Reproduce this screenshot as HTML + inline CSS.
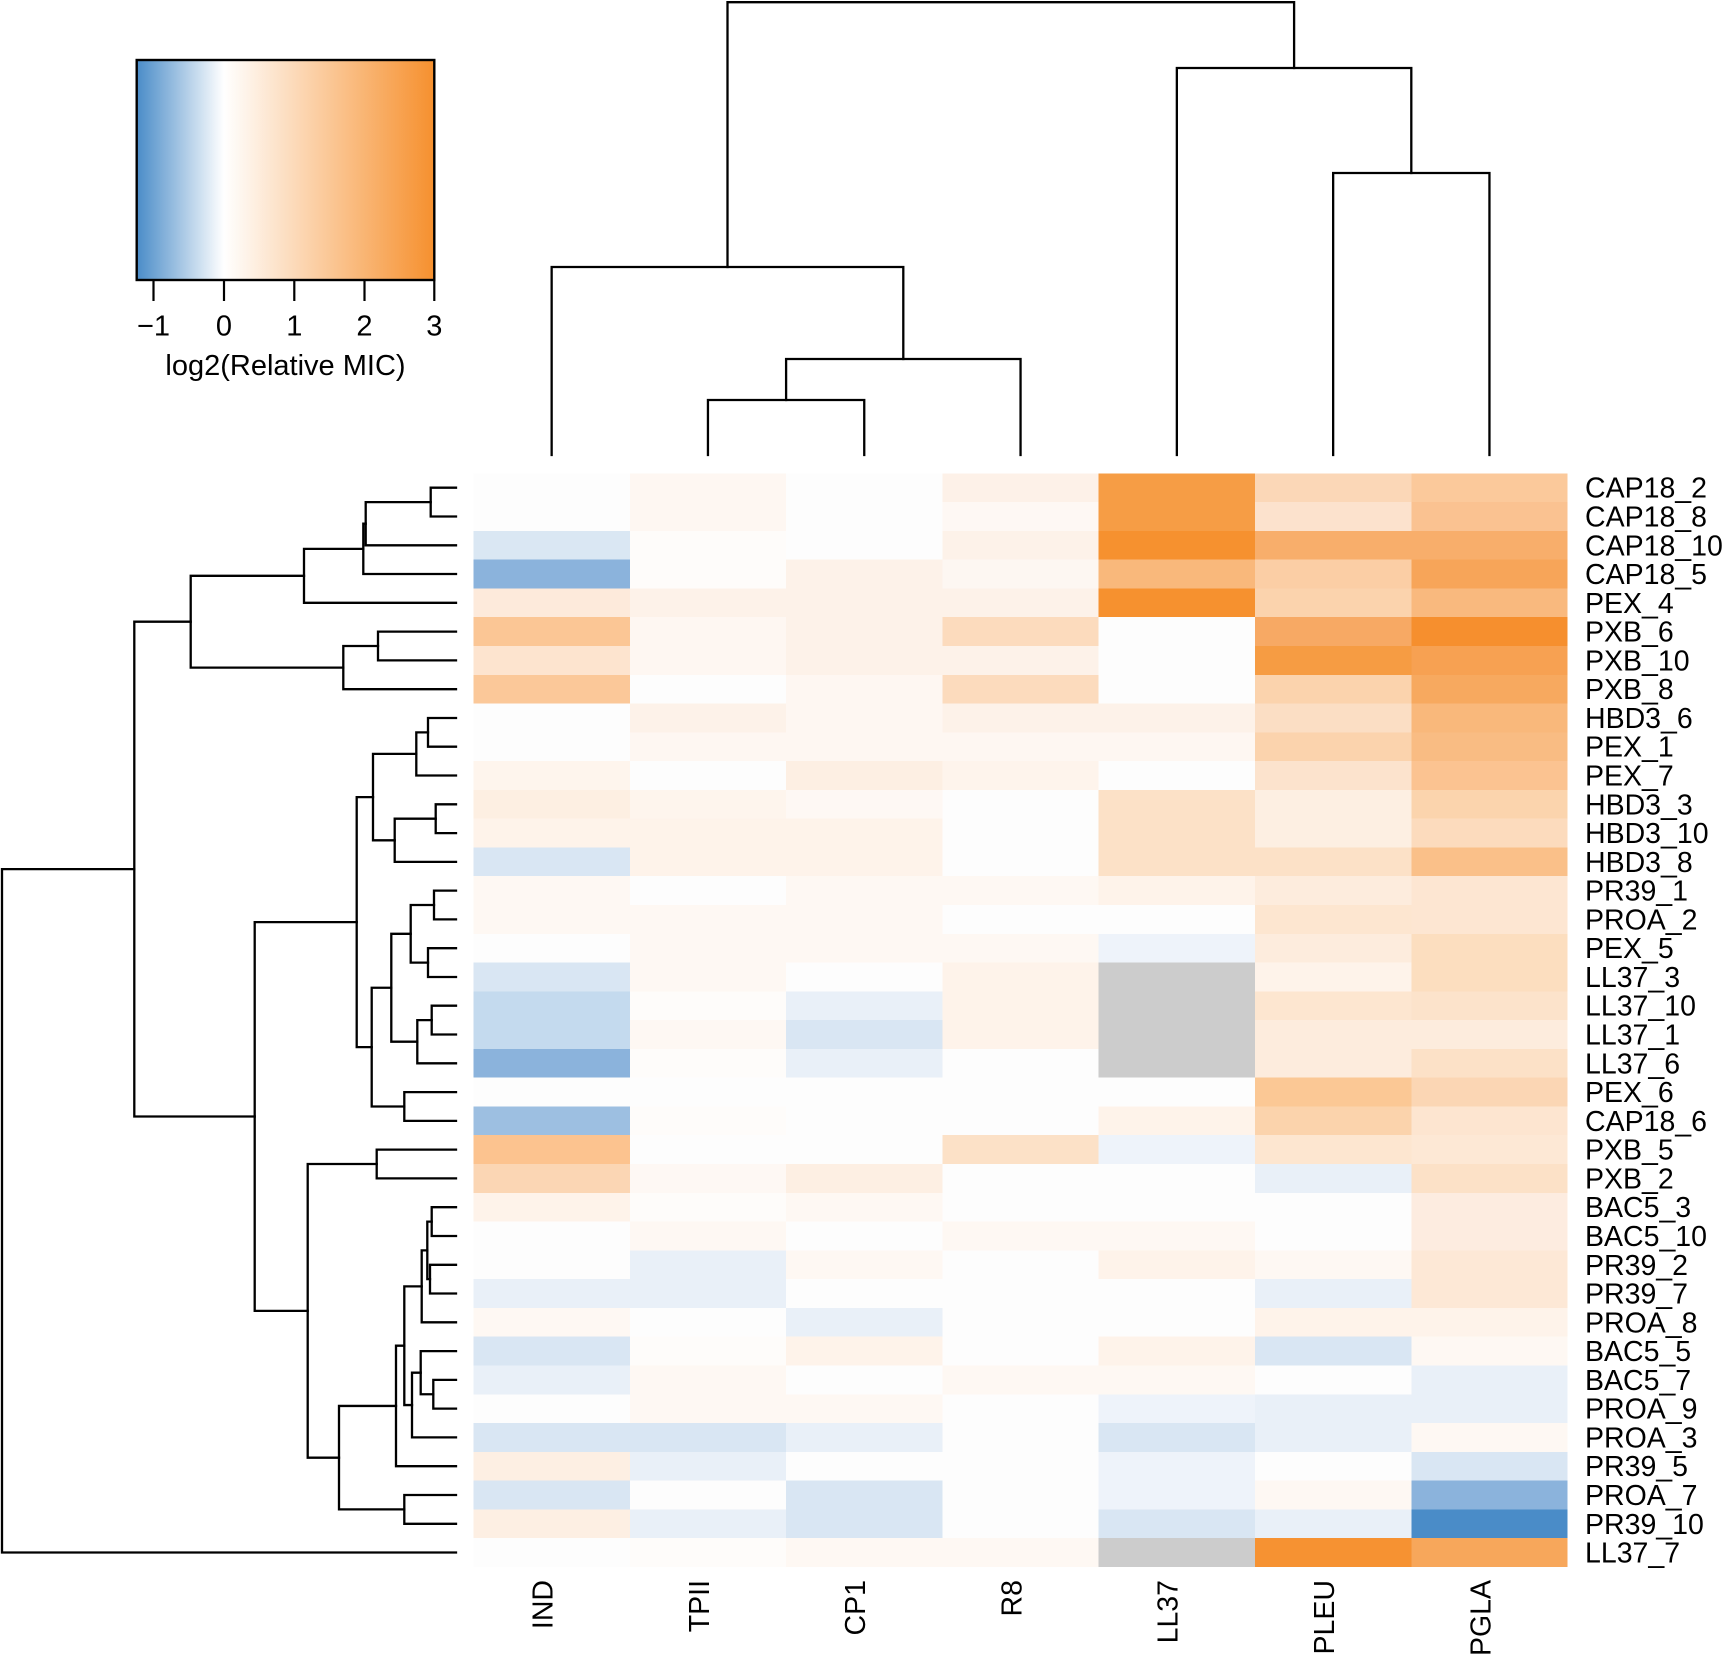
<!DOCTYPE html>
<html>
<head>
<meta charset="utf-8">
<style>
html,body{margin:0;padding:0;background:#ffffff;}
svg{display:block;}
text{font-family:"Liberation Sans",Arial,Helvetica,sans-serif;fill:#000;}
</style>
</head>
<body>
<svg width="1723" height="1656" viewBox="0 0 1723 1656" xmlns="http://www.w3.org/2000/svg">
<defs>
<linearGradient id="lg" gradientUnits="userSpaceOnUse" x1="136.7" y1="0" x2="434.3" y2="0">
<stop offset="0" stop-color="#4a8cc8"/>
<stop offset="0.293" stop-color="#ffffff"/>
<stop offset="1" stop-color="#f6902e"/>
</linearGradient>
</defs>
<rect x="0" y="0" width="1723" height="1656" fill="#ffffff"/>

<!-- Legend -->
<rect x="136.7" y="60" width="297.6" height="220" fill="url(#lg)" stroke="#000" stroke-width="2.4"/>
<g stroke="#000" stroke-width="2.2">
<line x1="153.5" y1="280" x2="153.5" y2="301"/>
<line x1="224" y1="280" x2="224" y2="301"/>
<line x1="294.3" y1="280" x2="294.3" y2="301"/>
<line x1="364.5" y1="280" x2="364.5" y2="301"/>
<line x1="434.3" y1="280" x2="434.3" y2="301"/>
</g>
<g font-size="29" text-anchor="middle">
<text x="153.5" y="335.5">−1</text>
<text x="224" y="335.5">0</text>
<text x="294.3" y="335.5">1</text>
<text x="364.5" y="335.5">2</text>
<text x="434.3" y="335.5">3</text>
<text x="285.5" y="375">log2(Relative MIC)</text>
</g>

<!-- Heatmap -->
<g shape-rendering="crispEdges">
<!-- row 0 CAP18_2 -->
<rect x="473.5" y="473.3" width="156.8" height="29.2" fill="#fdfdfd"/><rect x="629.8" y="473.3" width="156.8" height="29.2" fill="#fef7f2"/><rect x="786.1" y="473.3" width="156.8" height="29.2" fill="#fdfdfd"/><rect x="942.4" y="473.3" width="156.8" height="29.2" fill="#fdf1e8"/><rect x="1098.7" y="473.3" width="156.8" height="29.2" fill="#f69d45"/><rect x="1255" y="473.3" width="156.8" height="29.2" fill="#fbd7b7"/><rect x="1411.3" y="473.3" width="156.3" height="29.2" fill="#fbc99b"/>
<!-- row 1 CAP18_8 -->
<rect x="473.5" y="502.1" width="156.8" height="29.2" fill="#fdfdfd"/><rect x="629.8" y="502.1" width="156.8" height="29.2" fill="#fef7f2"/><rect x="786.1" y="502.1" width="156.8" height="29.2" fill="#fdfdfd"/><rect x="942.4" y="502.1" width="156.8" height="29.2" fill="#fef8f4"/><rect x="1098.7" y="502.1" width="156.8" height="29.2" fill="#f69d45"/><rect x="1255" y="502.1" width="156.8" height="29.2" fill="#fce2cd"/><rect x="1411.3" y="502.1" width="156.3" height="29.2" fill="#fac291"/>
<!-- row 2 CAP18_10 -->
<rect x="473.5" y="530.9" width="156.8" height="29.2" fill="#dae7f3"/><rect x="629.8" y="530.9" width="156.8" height="29.2" fill="#fefcfa"/><rect x="786.1" y="530.9" width="156.8" height="29.2" fill="#fdfdfd"/><rect x="942.4" y="530.9" width="156.8" height="29.2" fill="#fdf2e9"/><rect x="1098.7" y="530.9" width="156.8" height="29.2" fill="#f6912f"/><rect x="1255" y="530.9" width="156.8" height="29.2" fill="#f8ae6b"/><rect x="1411.3" y="530.9" width="156.3" height="29.2" fill="#f8ae6b"/>
<!-- row 3 CAP18_5 -->
<rect x="473.5" y="559.6" width="156.8" height="29.2" fill="#8bb3dc"/><rect x="629.8" y="559.6" width="156.8" height="29.2" fill="#fefcfa"/><rect x="786.1" y="559.6" width="156.8" height="29.2" fill="#fdf2e9"/><rect x="942.4" y="559.6" width="156.8" height="29.2" fill="#fdf7f2"/><rect x="1098.7" y="559.6" width="156.8" height="29.2" fill="#f9b87b"/><rect x="1255" y="559.6" width="156.8" height="29.2" fill="#fbcea5"/><rect x="1411.3" y="559.6" width="156.3" height="29.2" fill="#f7a559"/>
<!-- row 4 PEX_4 -->
<rect x="473.5" y="588.4" width="156.8" height="29.2" fill="#fdeadb"/><rect x="629.8" y="588.4" width="156.8" height="29.2" fill="#fdf2e9"/><rect x="786.1" y="588.4" width="156.8" height="29.2" fill="#fdf2e9"/><rect x="942.4" y="588.4" width="156.8" height="29.2" fill="#fdf2e9"/><rect x="1098.7" y="588.4" width="156.8" height="29.2" fill="#f6912f"/><rect x="1255" y="588.4" width="156.8" height="29.2" fill="#fbd3ad"/><rect x="1411.3" y="588.4" width="156.3" height="29.2" fill="#f9b97e"/>
<!-- row 5 PXB_6 -->
<rect x="473.5" y="617.2" width="156.8" height="29.2" fill="#fbc695"/><rect x="629.8" y="617.2" width="156.8" height="29.2" fill="#fef7f2"/><rect x="786.1" y="617.2" width="156.8" height="29.2" fill="#fdf2e9"/><rect x="942.4" y="617.2" width="156.8" height="29.2" fill="#fcdbbd"/><rect x="1098.7" y="617.2" width="156.8" height="29.2" fill="#fdfdfd"/><rect x="1255" y="617.2" width="156.8" height="29.2" fill="#f7a964"/><rect x="1411.3" y="617.2" width="156.3" height="29.2" fill="#f68f2e"/>
<!-- row 6 PXB_10 -->
<rect x="473.5" y="646" width="156.8" height="29.2" fill="#fde4cf"/><rect x="629.8" y="646" width="156.8" height="29.2" fill="#fef7f2"/><rect x="786.1" y="646" width="156.8" height="29.2" fill="#fdf2e9"/><rect x="942.4" y="646" width="156.8" height="29.2" fill="#fdf2e9"/><rect x="1098.7" y="646" width="156.8" height="29.2" fill="#fdfdfd"/><rect x="1255" y="646" width="156.8" height="29.2" fill="#f69c43"/><rect x="1411.3" y="646" width="156.3" height="29.2" fill="#f7a152"/>
<!-- row 7 PXB_8 -->
<rect x="473.5" y="674.8" width="156.8" height="29.2" fill="#fbc899"/><rect x="629.8" y="674.8" width="156.8" height="29.2" fill="#fdfdfd"/><rect x="786.1" y="674.8" width="156.8" height="29.2" fill="#fef7f2"/><rect x="942.4" y="674.8" width="156.8" height="29.2" fill="#fcdbbd"/><rect x="1098.7" y="674.8" width="156.8" height="29.2" fill="#fdfdfd"/><rect x="1255" y="674.8" width="156.8" height="29.2" fill="#fbd3ad"/><rect x="1411.3" y="674.8" width="156.3" height="29.2" fill="#f7a95f"/>
<!-- row 8 HBD3_6 -->
<rect x="473.5" y="703.5" width="156.8" height="29.2" fill="#fdfdfd"/><rect x="629.8" y="703.5" width="156.8" height="29.2" fill="#fdf2e9"/><rect x="786.1" y="703.5" width="156.8" height="29.2" fill="#fef7f2"/><rect x="942.4" y="703.5" width="156.8" height="29.2" fill="#fdf2e9"/><rect x="1098.7" y="703.5" width="156.8" height="29.2" fill="#fdf2e9"/><rect x="1255" y="703.5" width="156.8" height="29.2" fill="#fbdec4"/><rect x="1411.3" y="703.5" width="156.3" height="29.2" fill="#f9b87b"/>
<!-- row 9 PEX_1 -->
<rect x="473.5" y="732.3" width="156.8" height="29.2" fill="#fdfdfd"/><rect x="629.8" y="732.3" width="156.8" height="29.2" fill="#fef7f2"/><rect x="786.1" y="732.3" width="156.8" height="29.2" fill="#fef7f2"/><rect x="942.4" y="732.3" width="156.8" height="29.2" fill="#fef7f2"/><rect x="1098.7" y="732.3" width="156.8" height="29.2" fill="#fef7f2"/><rect x="1255" y="732.3" width="156.8" height="29.2" fill="#fbd3ad"/><rect x="1411.3" y="732.3" width="156.3" height="29.2" fill="#f9bc83"/>
<!-- row 10 PEX_7 -->
<rect x="473.5" y="761.1" width="156.8" height="29.2" fill="#fef5ed"/><rect x="629.8" y="761.1" width="156.8" height="29.2" fill="#fdfdfd"/><rect x="786.1" y="761.1" width="156.8" height="29.2" fill="#fdefe3"/><rect x="942.4" y="761.1" width="156.8" height="29.2" fill="#fef4ec"/><rect x="1098.7" y="761.1" width="156.8" height="29.2" fill="#fdfdfd"/><rect x="1255" y="761.1" width="156.8" height="29.2" fill="#fce3cd"/><rect x="1411.3" y="761.1" width="156.3" height="29.2" fill="#fbc391"/>
<!-- row 11 HBD3_3 -->
<rect x="473.5" y="789.9" width="156.8" height="29.2" fill="#fdefe2"/><rect x="629.8" y="789.9" width="156.8" height="29.2" fill="#fef5ed"/><rect x="786.1" y="789.9" width="156.8" height="29.2" fill="#fef8f4"/><rect x="942.4" y="789.9" width="156.8" height="29.2" fill="#fdfdfd"/><rect x="1098.7" y="789.9" width="156.8" height="29.2" fill="#fce1c7"/><rect x="1255" y="789.9" width="156.8" height="29.2" fill="#fdefe2"/><rect x="1411.3" y="789.9" width="156.3" height="29.2" fill="#fbd4ad"/>
<!-- row 12 HBD3_10 -->
<rect x="473.5" y="818.7" width="156.8" height="29.2" fill="#fef3ea"/><rect x="629.8" y="818.7" width="156.8" height="29.2" fill="#fef3ea"/><rect x="786.1" y="818.7" width="156.8" height="29.2" fill="#fef3ea"/><rect x="942.4" y="818.7" width="156.8" height="29.2" fill="#fdfdfd"/><rect x="1098.7" y="818.7" width="156.8" height="29.2" fill="#fce1c7"/><rect x="1255" y="818.7" width="156.8" height="29.2" fill="#fdefe2"/><rect x="1411.3" y="818.7" width="156.3" height="29.2" fill="#fcdbbd"/>
<!-- row 13 HBD3_8 -->
<rect x="473.5" y="847.4" width="156.8" height="29.2" fill="#d9e6f3"/><rect x="629.8" y="847.4" width="156.8" height="29.2" fill="#fef3ea"/><rect x="786.1" y="847.4" width="156.8" height="29.2" fill="#fef3ea"/><rect x="942.4" y="847.4" width="156.8" height="29.2" fill="#fdfdfd"/><rect x="1098.7" y="847.4" width="156.8" height="29.2" fill="#fce1c7"/><rect x="1255" y="847.4" width="156.8" height="29.2" fill="#fce1c7"/><rect x="1411.3" y="847.4" width="156.3" height="29.2" fill="#fac089"/>
<!-- row 14 PR39_1 -->
<rect x="473.5" y="876.2" width="156.8" height="29.2" fill="#fef8f3"/><rect x="629.8" y="876.2" width="156.8" height="29.2" fill="#fdfdfd"/><rect x="786.1" y="876.2" width="156.8" height="29.2" fill="#fef8f3"/><rect x="942.4" y="876.2" width="156.8" height="29.2" fill="#fef8f3"/><rect x="1098.7" y="876.2" width="156.8" height="29.2" fill="#fef3ea"/><rect x="1255" y="876.2" width="156.8" height="29.2" fill="#fdecdd"/><rect x="1411.3" y="876.2" width="156.3" height="29.2" fill="#fde6d2"/>
<!-- row 15 PROA_2 -->
<rect x="473.5" y="905" width="156.8" height="29.2" fill="#fef8f3"/><rect x="629.8" y="905" width="156.8" height="29.2" fill="#fef8f3"/><rect x="786.1" y="905" width="156.8" height="29.2" fill="#fef8f3"/><rect x="942.4" y="905" width="156.8" height="29.2" fill="#fdfdfd"/><rect x="1098.7" y="905" width="156.8" height="29.2" fill="#fdfdfd"/><rect x="1255" y="905" width="156.8" height="29.2" fill="#fde6d0"/><rect x="1411.3" y="905" width="156.3" height="29.2" fill="#fde6d2"/>
<!-- row 16 PEX_5 -->
<rect x="473.5" y="933.8" width="156.8" height="29.2" fill="#fdfdfd"/><rect x="629.8" y="933.8" width="156.8" height="29.2" fill="#fef8f3"/><rect x="786.1" y="933.8" width="156.8" height="29.2" fill="#fef8f3"/><rect x="942.4" y="933.8" width="156.8" height="29.2" fill="#fef8f3"/><rect x="1098.7" y="933.8" width="156.8" height="29.2" fill="#eef3fa"/><rect x="1255" y="933.8" width="156.8" height="29.2" fill="#fdecdd"/><rect x="1411.3" y="933.8" width="156.3" height="29.2" fill="#fcdebf"/>
<!-- row 17 LL37_3 -->
<rect x="473.5" y="962.6" width="156.8" height="29.2" fill="#d9e6f3"/><rect x="629.8" y="962.6" width="156.8" height="29.2" fill="#fef8f3"/><rect x="786.1" y="962.6" width="156.8" height="29.2" fill="#fdfdfd"/><rect x="942.4" y="962.6" width="156.8" height="29.2" fill="#fef3ea"/><rect x="1098.7" y="962.6" width="156.8" height="29.2" fill="#cccccc"/><rect x="1255" y="962.6" width="156.8" height="29.2" fill="#fef3ea"/><rect x="1411.3" y="962.6" width="156.3" height="29.2" fill="#fcdebf"/>
<!-- row 18 LL37_10 -->
<rect x="473.5" y="991.3" width="156.8" height="29.2" fill="#c4daee"/><rect x="629.8" y="991.3" width="156.8" height="29.2" fill="#fefcfa"/><rect x="786.1" y="991.3" width="156.8" height="29.2" fill="#e9f0f8"/><rect x="942.4" y="991.3" width="156.8" height="29.2" fill="#fef3ea"/><rect x="1098.7" y="991.3" width="156.8" height="29.2" fill="#cccccc"/><rect x="1255" y="991.3" width="156.8" height="29.2" fill="#fde6d0"/><rect x="1411.3" y="991.3" width="156.3" height="29.2" fill="#fce3cb"/>
<!-- row 19 LL37_1 -->
<rect x="473.5" y="1020.1" width="156.8" height="29.2" fill="#c4daee"/><rect x="629.8" y="1020.1" width="156.8" height="29.2" fill="#fef8f3"/><rect x="786.1" y="1020.1" width="156.8" height="29.2" fill="#d9e6f3"/><rect x="942.4" y="1020.1" width="156.8" height="29.2" fill="#fef3ea"/><rect x="1098.7" y="1020.1" width="156.8" height="29.2" fill="#cccccc"/><rect x="1255" y="1020.1" width="156.8" height="29.2" fill="#fdecdd"/><rect x="1411.3" y="1020.1" width="156.3" height="29.2" fill="#fdecdd"/>
<!-- row 20 LL37_6 -->
<rect x="473.5" y="1048.9" width="156.8" height="29.2" fill="#8bb3dc"/><rect x="629.8" y="1048.9" width="156.8" height="29.2" fill="#fefcfa"/><rect x="786.1" y="1048.9" width="156.8" height="29.2" fill="#e9f0f8"/><rect x="942.4" y="1048.9" width="156.8" height="29.2" fill="#fdfdfd"/><rect x="1098.7" y="1048.9" width="156.8" height="29.2" fill="#cccccc"/><rect x="1255" y="1048.9" width="156.8" height="29.2" fill="#fdecdd"/><rect x="1411.3" y="1048.9" width="156.3" height="29.2" fill="#fce1c7"/>
<!-- row 21 PEX_6 -->
<rect x="473.5" y="1077.7" width="156.8" height="29.2" fill="#fdfdfd"/><rect x="629.8" y="1077.7" width="156.8" height="29.2" fill="#fdfdfd"/><rect x="786.1" y="1077.7" width="156.8" height="29.2" fill="#fdfdfd"/><rect x="942.4" y="1077.7" width="156.8" height="29.2" fill="#fdfdfd"/><rect x="1098.7" y="1077.7" width="156.8" height="29.2" fill="#fdfdfd"/><rect x="1255" y="1077.7" width="156.8" height="29.2" fill="#fbc895"/><rect x="1411.3" y="1077.7" width="156.3" height="29.2" fill="#fbd6b4"/>
<!-- row 22 CAP18_6 -->
<rect x="473.5" y="1106.5" width="156.8" height="29.2" fill="#9dbfe1"/><rect x="629.8" y="1106.5" width="156.8" height="29.2" fill="#fefcfa"/><rect x="786.1" y="1106.5" width="156.8" height="29.2" fill="#fdfdfd"/><rect x="942.4" y="1106.5" width="156.8" height="29.2" fill="#fdfdfd"/><rect x="1098.7" y="1106.5" width="156.8" height="29.2" fill="#fef3ea"/><rect x="1255" y="1106.5" width="156.8" height="29.2" fill="#fbd3ac"/><rect x="1411.3" y="1106.5" width="156.3" height="29.2" fill="#fde5d0"/>
<!-- row 23 PXB_5 -->
<rect x="473.5" y="1135.2" width="156.8" height="29.2" fill="#fcc38f"/><rect x="629.8" y="1135.2" width="156.8" height="29.2" fill="#fdfdfd"/><rect x="786.1" y="1135.2" width="156.8" height="29.2" fill="#fdfdfd"/><rect x="942.4" y="1135.2" width="156.8" height="29.2" fill="#fce1c7"/><rect x="1098.7" y="1135.2" width="156.8" height="29.2" fill="#eef3fa"/><rect x="1255" y="1135.2" width="156.8" height="29.2" fill="#fde6d0"/><rect x="1411.3" y="1135.2" width="156.3" height="29.2" fill="#fde8d5"/>
<!-- row 24 PXB_2 -->
<rect x="473.5" y="1164" width="156.8" height="29.2" fill="#fbd6b4"/><rect x="629.8" y="1164" width="156.8" height="29.2" fill="#fef8f4"/><rect x="786.1" y="1164" width="156.8" height="29.2" fill="#fdefe3"/><rect x="942.4" y="1164" width="156.8" height="29.2" fill="#fdfdfd"/><rect x="1098.7" y="1164" width="156.8" height="29.2" fill="#fdfdfd"/><rect x="1255" y="1164" width="156.8" height="29.2" fill="#e9f0f8"/><rect x="1411.3" y="1164" width="156.3" height="29.2" fill="#fce1c7"/>
<!-- row 25 BAC5_3 -->
<rect x="473.5" y="1192.8" width="156.8" height="29.2" fill="#fef3ea"/><rect x="629.8" y="1192.8" width="156.8" height="29.2" fill="#fefcfa"/><rect x="786.1" y="1192.8" width="156.8" height="29.2" fill="#fef8f3"/><rect x="942.4" y="1192.8" width="156.8" height="29.2" fill="#fdfdfd"/><rect x="1098.7" y="1192.8" width="156.8" height="29.2" fill="#fdfdfd"/><rect x="1255" y="1192.8" width="156.8" height="29.2" fill="#fdfdfd"/><rect x="1411.3" y="1192.8" width="156.3" height="29.2" fill="#fdece0"/>
<!-- row 26 BAC5_10 -->
<rect x="473.5" y="1221.6" width="156.8" height="29.2" fill="#fdfdfd"/><rect x="629.8" y="1221.6" width="156.8" height="29.2" fill="#fef8f3"/><rect x="786.1" y="1221.6" width="156.8" height="29.2" fill="#fdfdfd"/><rect x="942.4" y="1221.6" width="156.8" height="29.2" fill="#fef8f3"/><rect x="1098.7" y="1221.6" width="156.8" height="29.2" fill="#fef8f3"/><rect x="1255" y="1221.6" width="156.8" height="29.2" fill="#fdfdfd"/><rect x="1411.3" y="1221.6" width="156.3" height="29.2" fill="#fdece0"/>
<!-- row 27 PR39_2 -->
<rect x="473.5" y="1250.4" width="156.8" height="29.2" fill="#fdfdfd"/><rect x="629.8" y="1250.4" width="156.8" height="29.2" fill="#e9f0f8"/><rect x="786.1" y="1250.4" width="156.8" height="29.2" fill="#fef8f3"/><rect x="942.4" y="1250.4" width="156.8" height="29.2" fill="#fdfdfd"/><rect x="1098.7" y="1250.4" width="156.8" height="29.2" fill="#fef3ea"/><rect x="1255" y="1250.4" width="156.8" height="29.2" fill="#fef8f3"/><rect x="1411.3" y="1250.4" width="156.3" height="29.2" fill="#fde8d6"/>
<!-- row 28 PR39_7 -->
<rect x="473.5" y="1279.1" width="156.8" height="29.2" fill="#e9f0f8"/><rect x="629.8" y="1279.1" width="156.8" height="29.2" fill="#e9f0f8"/><rect x="786.1" y="1279.1" width="156.8" height="29.2" fill="#fdfdfd"/><rect x="942.4" y="1279.1" width="156.8" height="29.2" fill="#fdfdfd"/><rect x="1098.7" y="1279.1" width="156.8" height="29.2" fill="#fdfdfd"/><rect x="1255" y="1279.1" width="156.8" height="29.2" fill="#e9f0f8"/><rect x="1411.3" y="1279.1" width="156.3" height="29.2" fill="#fde8d6"/>
<!-- row 29 PROA_8 -->
<rect x="473.5" y="1307.9" width="156.8" height="29.2" fill="#fef8f3"/><rect x="629.8" y="1307.9" width="156.8" height="29.2" fill="#fdfdfd"/><rect x="786.1" y="1307.9" width="156.8" height="29.2" fill="#e9f0f8"/><rect x="942.4" y="1307.9" width="156.8" height="29.2" fill="#fdfdfd"/><rect x="1098.7" y="1307.9" width="156.8" height="29.2" fill="#fdfdfd"/><rect x="1255" y="1307.9" width="156.8" height="29.2" fill="#fef3ea"/><rect x="1411.3" y="1307.9" width="156.3" height="29.2" fill="#fef3ea"/>
<!-- row 30 BAC5_5 -->
<rect x="473.5" y="1336.7" width="156.8" height="29.2" fill="#d9e6f3"/><rect x="629.8" y="1336.7" width="156.8" height="29.2" fill="#fefcfa"/><rect x="786.1" y="1336.7" width="156.8" height="29.2" fill="#fef3ea"/><rect x="942.4" y="1336.7" width="156.8" height="29.2" fill="#fdfdfd"/><rect x="1098.7" y="1336.7" width="156.8" height="29.2" fill="#fef3ea"/><rect x="1255" y="1336.7" width="156.8" height="29.2" fill="#d9e6f3"/><rect x="1411.3" y="1336.7" width="156.3" height="29.2" fill="#fef8f3"/>
<!-- row 31 BAC5_7 -->
<rect x="473.5" y="1365.5" width="156.8" height="29.2" fill="#e9f0f8"/><rect x="629.8" y="1365.5" width="156.8" height="29.2" fill="#fef8f3"/><rect x="786.1" y="1365.5" width="156.8" height="29.2" fill="#fdfdfd"/><rect x="942.4" y="1365.5" width="156.8" height="29.2" fill="#fef8f3"/><rect x="1098.7" y="1365.5" width="156.8" height="29.2" fill="#fef8f3"/><rect x="1255" y="1365.5" width="156.8" height="29.2" fill="#fdfdfd"/><rect x="1411.3" y="1365.5" width="156.3" height="29.2" fill="#e9f0f8"/>
<!-- row 32 PROA_9 -->
<rect x="473.5" y="1394.3" width="156.8" height="29.2" fill="#fdfdfd"/><rect x="629.8" y="1394.3" width="156.8" height="29.2" fill="#fef8f3"/><rect x="786.1" y="1394.3" width="156.8" height="29.2" fill="#fef8f3"/><rect x="942.4" y="1394.3" width="156.8" height="29.2" fill="#fdfdfd"/><rect x="1098.7" y="1394.3" width="156.8" height="29.2" fill="#eef3fa"/><rect x="1255" y="1394.3" width="156.8" height="29.2" fill="#e9f0f8"/><rect x="1411.3" y="1394.3" width="156.3" height="29.2" fill="#e9f0f8"/>
<!-- row 33 PROA_3 -->
<rect x="473.5" y="1423" width="156.8" height="29.2" fill="#d9e6f3"/><rect x="629.8" y="1423" width="156.8" height="29.2" fill="#d9e6f3"/><rect x="786.1" y="1423" width="156.8" height="29.2" fill="#e9f0f8"/><rect x="942.4" y="1423" width="156.8" height="29.2" fill="#fdfdfd"/><rect x="1098.7" y="1423" width="156.8" height="29.2" fill="#d9e6f3"/><rect x="1255" y="1423" width="156.8" height="29.2" fill="#e9f0f8"/><rect x="1411.3" y="1423" width="156.3" height="29.2" fill="#fef8f3"/>
<!-- row 34 PR39_5 -->
<rect x="473.5" y="1451.8" width="156.8" height="29.2" fill="#fdefe3"/><rect x="629.8" y="1451.8" width="156.8" height="29.2" fill="#e9f0f8"/><rect x="786.1" y="1451.8" width="156.8" height="29.2" fill="#fdfdfd"/><rect x="942.4" y="1451.8" width="156.8" height="29.2" fill="#fdfdfd"/><rect x="1098.7" y="1451.8" width="156.8" height="29.2" fill="#eef3fa"/><rect x="1255" y="1451.8" width="156.8" height="29.2" fill="#fdfdfd"/><rect x="1411.3" y="1451.8" width="156.3" height="29.2" fill="#d9e6f3"/>
<!-- row 35 PROA_7 -->
<rect x="473.5" y="1480.6" width="156.8" height="29.2" fill="#d9e6f3"/><rect x="629.8" y="1480.6" width="156.8" height="29.2" fill="#fdfdfd"/><rect x="786.1" y="1480.6" width="156.8" height="29.2" fill="#d9e6f3"/><rect x="942.4" y="1480.6" width="156.8" height="29.2" fill="#fdfdfd"/><rect x="1098.7" y="1480.6" width="156.8" height="29.2" fill="#eef3fa"/><rect x="1255" y="1480.6" width="156.8" height="29.2" fill="#fef8f3"/><rect x="1411.3" y="1480.6" width="156.3" height="29.2" fill="#8bb3dc"/>
<!-- row 36 PR39_10 -->
<rect x="473.5" y="1509.4" width="156.8" height="29.2" fill="#fdefe3"/><rect x="629.8" y="1509.4" width="156.8" height="29.2" fill="#e9f0f8"/><rect x="786.1" y="1509.4" width="156.8" height="29.2" fill="#d9e6f3"/><rect x="942.4" y="1509.4" width="156.8" height="29.2" fill="#fdfdfd"/><rect x="1098.7" y="1509.4" width="156.8" height="29.2" fill="#d9e6f3"/><rect x="1255" y="1509.4" width="156.8" height="29.2" fill="#e9f0f8"/><rect x="1411.3" y="1509.4" width="156.3" height="29.2" fill="#4a8cc8"/>
<!-- row 37 LL37_7 -->
<rect x="473.5" y="1538.2" width="156.8" height="28.8" fill="#fdfdfd"/><rect x="629.8" y="1538.2" width="156.8" height="28.8" fill="#fefcfa"/><rect x="786.1" y="1538.2" width="156.8" height="28.8" fill="#fef8f3"/><rect x="942.4" y="1538.2" width="156.8" height="28.8" fill="#fef8f3"/><rect x="1098.7" y="1538.2" width="156.8" height="28.8" fill="#cccccc"/><rect x="1255" y="1538.2" width="156.8" height="28.8" fill="#f69232"/><rect x="1411.3" y="1538.2" width="156.3" height="28.8" fill="#f7a75b"/>
</g>

<!-- Row dendrogram -->
<g fill="none" stroke="#000" stroke-width="2.3" stroke-linecap="square">
<path d="M456 487.7 H430.7 V516.5 H456"/>
<path d="M430.7 502.1 H365.7 V545.3 H456"/>
<path d="M365.7 523.7 H363.3 V574.0 H456"/>
<path d="M363.3 548.85 H304 V602.8 H456"/>
<path d="M456 631.6 H378 V660.4 H456"/>
<path d="M378 646.0 H343.3 V689.2 H456"/>
<path d="M304 575.8 H190.7 V667.6 H343.3"/>
<path d="M456 718.0 H428 V746.7 H456"/>
<path d="M428 732.35 H416.3 V775.5 H456"/>
<path d="M456 804.3 H435.7 V833.1 H456"/>
<path d="M435.7 818.7 H394.7 V861.9 H456"/>
<path d="M416.3 753.9 H373 V840.3 H394.7"/>
<path d="M456 890.6 H434 V919.4 H456"/>
<path d="M456 948.2 H428 V977.0 H456"/>
<path d="M434 905.0 H410.7 V962.6 H428"/>
<path d="M456 1005.7 H431.7 V1034.5 H456"/>
<path d="M431.7 1020.1 H417.3 V1063.3 H456"/>
<path d="M410.7 933.8 H391.3 V1041.7 H417.3"/>
<path d="M456 1092.1 H404.3 V1120.9 H456"/>
<path d="M391.3 987.75 H371.7 V1106.5 H404.3"/>
<path d="M373 797.1 H356.7 V1047.1 H371.7"/>
<path d="M456 1149.6 H376.7 V1178.4 H456"/>
<path d="M456 1207.2 H431.7 V1236.0 H456"/>
<path d="M456 1264.8 H430 V1293.5 H456"/>
<path d="M431.7 1221.6 H427.3 V1279.15 H430"/>
<path d="M427.3 1250.4 H421.7 V1322.3 H456"/>
<path d="M456 1379.9 H433.3 V1408.6 H456"/>
<path d="M456 1351.1 H420.7 V1394.25 H433.3"/>
<path d="M420.7 1372.7 H412 V1437.4 H456"/>
<path d="M421.7 1286.35 H404.3 V1405.05 H412"/>
<path d="M404.3 1345.7 H396 V1466.2 H456"/>
<path d="M456 1495.0 H404.3 V1523.8 H456"/>
<path d="M396 1405.95 H339 V1509.4 H404.3"/>
<path d="M376.7 1164.0 H307.7 V1457.7 H339"/>
<path d="M356.7 922.1 H254.7 V1310.85 H307.7"/>
<path d="M190.7 621.7 H134.3 V1116.5 H254.7"/>
<path d="M134.3 869.1 H2 V1552.5 H456"/>
</g>

<!-- Column dendrogram -->
<g fill="none" stroke="#000" stroke-width="2.3" stroke-linecap="square">
<path d="M707.95 455 V400 H864.25 V455"/>
<path d="M786.1 400 V359 H1020.55 V455"/>
<path d="M551.65 455 V267 H903.3 V359"/>
<path d="M1333.15 455 V173 H1489.45 V455"/>
<path d="M1176.85 455 V68 H1411.3 V173"/>
<path d="M727.5 267 V2.2 H1294.1 V68"/>
</g>

<!-- Row labels -->
<g font-size="28.5">
<text x="1585" y="497.7">CAP18_2</text>
<text x="1585" y="526.5">CAP18_8</text>
<text x="1585" y="555.3">CAP18_10</text>
<text x="1585" y="584.0">CAP18_5</text>
<text x="1585" y="612.8">PEX_4</text>
<text x="1585" y="641.6">PXB_6</text>
<text x="1585" y="670.4">PXB_10</text>
<text x="1585" y="699.2">PXB_8</text>
<text x="1585" y="728.0">HBD3_6</text>
<text x="1585" y="756.7">PEX_1</text>
<text x="1585" y="785.5">PEX_7</text>
<text x="1585" y="814.3">HBD3_3</text>
<text x="1585" y="843.1">HBD3_10</text>
<text x="1585" y="871.9">HBD3_8</text>
<text x="1585" y="900.6">PR39_1</text>
<text x="1585" y="929.4">PROA_2</text>
<text x="1585" y="958.2">PEX_5</text>
<text x="1585" y="987.0">LL37_3</text>
<text x="1585" y="1015.7">LL37_10</text>
<text x="1585" y="1044.5">LL37_1</text>
<text x="1585" y="1073.3">LL37_6</text>
<text x="1585" y="1102.1">PEX_6</text>
<text x="1585" y="1130.9">CAP18_6</text>
<text x="1585" y="1159.6">PXB_5</text>
<text x="1585" y="1188.4">PXB_2</text>
<text x="1585" y="1217.2">BAC5_3</text>
<text x="1585" y="1246.0">BAC5_10</text>
<text x="1585" y="1274.8">PR39_2</text>
<text x="1585" y="1303.5">PR39_7</text>
<text x="1585" y="1332.3">PROA_8</text>
<text x="1585" y="1361.1">BAC5_5</text>
<text x="1585" y="1389.9">BAC5_7</text>
<text x="1585" y="1418.6">PROA_9</text>
<text x="1585" y="1447.4">PROA_3</text>
<text x="1585" y="1476.2">PR39_5</text>
<text x="1585" y="1505.0">PROA_7</text>
<text x="1585" y="1533.8">PR39_10</text>
<text x="1585" y="1562.5">LL37_7</text>
</g>

<!-- Column labels -->
<g font-size="28.5" text-anchor="end">
<text transform="translate(552.5,1580) rotate(-90)">IND</text>
<text transform="translate(708.8,1580) rotate(-90)">TPII</text>
<text transform="translate(865.1,1580) rotate(-90)">CP1</text>
<text transform="translate(1021.4,1580) rotate(-90)">R8</text>
<text transform="translate(1177.7,1580) rotate(-90)">LL37</text>
<text transform="translate(1334,1580) rotate(-90)">PLEU</text>
<text transform="translate(1490.3,1580) rotate(-90)">PGLA</text>
</g>
</svg>
</body>
</html>
